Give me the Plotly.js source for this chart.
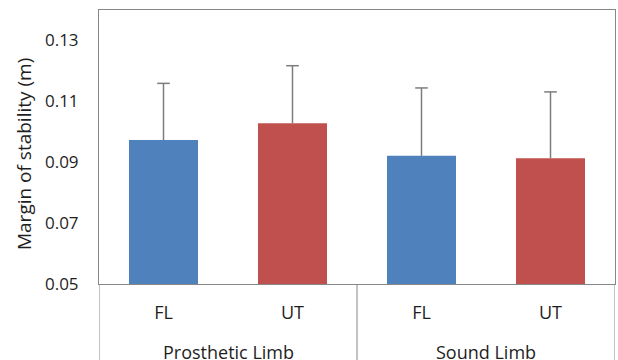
<!DOCTYPE html>
<html>
<head>
<meta charset="utf-8">
<script src="https://cdn.plot.ly/plotly-3.0.1.min.js"></script>
<style>
  html, body { margin: 0; padding: 0; background: #fff; }
  #chart { width: 618px; height: 360px; }
</style>
</head>
<body>
<div id="chart"></div>
<script>
// Margin of stability by limb and condition (mean + SD)
const limbs = ["Prosthetic Limb", "Prosthetic Limb", "Sound Limb", "Sound Limb"];
const conditions = ["FL", "UT", "FL", "UT"];
const means = [0.0973, 0.1028, 0.0921, 0.0913];
const sdUpper = [0.0186, 0.0189, 0.0223, 0.0218];
const yTitle = "Margin of stability (m)";

const conditionColor = { FL: "#4F81BD", UT: "#C0504D" };
const FONT = "Open Sans, Liberation Sans, sans-serif";
const TEXT = "#1e1e1e";
const AXIS_GREY = "#878787";
const ERR_GREY = "#7c7c7c";

const idx = conditions.map((_, i) => i);

// Bars
const bars = {
  type: "bar",
  x: idx,
  y: means,
  width: 0.535,
  marker: { color: conditions.map(c => conditionColor[c]), line: { width: 0 } },
  hoverinfo: "skip"
};

// Upper-only SD whiskers: a cap marker at mean+SD with a downward stem to the bar top
const whiskers = {
  type: "scatter",
  mode: "markers",
  x: idx,
  y: means.map((m, i) => m + sdUpper[i]),
  marker: {
    symbol: "line-ew",
    size: 9,
    color: ERR_GREY,
    line: { color: ERR_GREY, width: 1.5 }
  },
  error_y: {
    type: "data",
    symmetric: false,
    array: means.map(() => 0),
    arrayminus: sdUpper,
    color: ERR_GREY,
    thickness: 1.5,
    width: 0
  },
  cliponaxis: false,
  hoverinfo: "skip"
};

// Group names centred beneath their categories
const groupNames = [...new Set(limbs)];
const annotations = groupNames.map(g => {
  const members = idx.filter(i => limbs[i] === g);
  const centre = members.reduce((a, b) => a + b, 0) / members.length;
  return {
    text: g, xref: "x", yref: "paper", x: centre, y: -0.248,
    xanchor: "center", yanchor: "middle", showarrow: false,
    font: { family: FONT, size: 18, color: TEXT }
  };
});

// Rotated value-axis title, set slightly below the plot's mid-height
annotations.push({
  text: yTitle, textangle: -90, xref: "paper", yref: "paper",
  x: -0.145, y: 0.475, xanchor: "center", yanchor: "middle", showarrow: false,
  font: { family: FONT, size: 19, color: TEXT }
});

// Vertical separators at the group boundaries, running down through the label area
const boundaries = [-0.5];
groupNames.forEach(g => {
  const members = idx.filter(i => limbs[i] === g);
  boundaries.push(members[members.length - 1] + 0.5);
});
const dividerShapes = boundaries.map(b => ({
  type: "line", xref: "x", yref: "paper", x0: b, x1: b, y0: 0, y1: -0.35,
  line: { color: AXIS_GREY, width: 1 }
}));

const layout = {
  width: 618,
  height: 360,
  margin: { l: 99, r: 3, t: 10, b: 76 },
  paper_bgcolor: "#fff",
  plot_bgcolor: "#fff",
  showlegend: false,
  font: { family: FONT, size: 17, color: TEXT },
  xaxis: {
    range: [-0.5, 3.5],
    tickvals: idx,
    ticktext: conditions,
    showline: true,
    mirror: true,
    linecolor: AXIS_GREY,
    linewidth: 1,
    ticks: "",
    showgrid: false,
    zeroline: false,
    ticklabelstandoff: 12,
    tickfont: { family: FONT, size: 18, color: TEXT }
  },
  yaxis: {
    range: [0.05, 0.14],
    tick0: 0.05,
    dtick: 0.02,
    tickformat: ".2f",
    showline: true,
    mirror: true,
    linecolor: AXIS_GREY,
    linewidth: 1,
    ticks: "",
    showgrid: false,
    zeroline: false,
    ticklabelstandoff: 16,
    tickfont: { family: FONT, size: 17, color: TEXT }
  },
  annotations: annotations,
  shapes: dividerShapes
};

Plotly.newPlot("chart", [bars, whiskers], layout, { displayModeBar: false, staticPlot: true });
</script>
</body>
</html>
